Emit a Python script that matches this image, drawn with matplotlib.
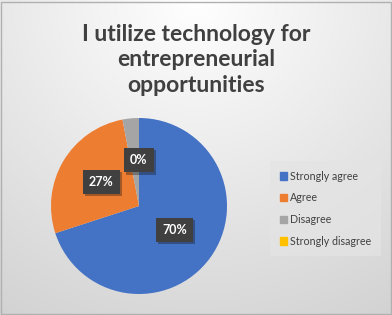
import numpy as np
import matplotlib
matplotlib.use("Agg")
import matplotlib.pyplot as plt
from matplotlib.patches import Rectangle
import matplotlib.patheffects as pe

# data
categories = ["Strongly agree", "Agree", "Disagree", "Strongly disagree"]
values = [70, 27, 3, 0]
colors = ["#4472C4", "#ED7D31", "#A5A5A5", "#FFC000"]
show_label = [True, True, False, True]

plt.rcParams['font.family'] = ['Lato', 'DejaVu Sans']

fig = plt.figure(figsize=(3.92, 3.15), dpi=100)

# background gradient (radial, light at top)
bg = fig.add_axes([0, 0, 1, 1])
yy, xx = np.mgrid[0:1:315j, 0:1:392j]
d = np.sqrt(((xx - 0.5) * 1.1) ** 2 + (yy * 0.95) ** 2)
g = np.clip(1.0 - 0.16 * d, 0.82, 1.0)
bg.imshow(np.dstack([g, g, g]), extent=[0, 1, 0, 1], aspect='auto', origin='upper')
bg.add_patch(Rectangle((0.003, 0.004), 0.994, 0.99, fill=False, ec="#b0b0b0", lw=1))
bg.set_xlim(0, 1)
bg.set_ylim(0, 1)
bg.axis('off')

fig.text(0.5, 1 - 60 / 315, "I utilize technology for\nentrepreneurial\nopportunities",
         ha='center', va='center', fontsize=16.5, fontweight='bold',
         color="#404040", linespacing=1.25)

cx, cy, r = 139, 206, 88
ax = fig.add_axes([(cx - r) / 392, (315 - cy - r) / 315, 2 * r / 392, 2 * r / 315])
wedges, _ = ax.pie(values, colors=colors, startangle=90, counterclock=False,
                   radius=1.0, wedgeprops=dict(linewidth=0))
ax.set_xlim(-1, 1)
ax.set_ylim(-1, 1)
ax.set_aspect('auto')

cum = np.cumsum([0] + values[:-1])
for i, v in enumerate(values):
    if not show_label[i]:
        continue
    mid = 90 - 360 * (cum[i] + v / 2) / sum(values)
    x = 0.5 * np.cos(np.radians(mid))
    y = 0.5 * np.sin(np.radians(mid))
    ax.text(x, y + 0.02, f"{v}%", ha='center', va='center', color='white',
            fontsize=9, fontweight='bold',
            bbox=dict(boxstyle='square,pad=0.5', fc="#404040", ec='none',
                      path_effects=[pe.withSimplePatchShadow(offset=(1.5, -1.5), alpha=0.35)]))

handles = [Rectangle((0, 0), 1, 1, color=c) for c in colors]
leg = fig.legend(handles, categories, loc='upper left',
                 bbox_to_anchor=(268 / 392, 1 - 159 / 315),
                 fontsize=7.7, frameon=True, handlelength=0.7, handleheight=0.7,
                 handletextpad=0.3, labelspacing=1.0, borderpad=0.6,
                 labelcolor="#404040")
leg.get_frame().set_facecolor("#e4e4e4")
leg.get_frame().set_edgecolor("none")
leg.get_frame().set_alpha(0.7)
leg.get_frame().set_boxstyle('square')

fig.savefig("out.png", dpi=100)
